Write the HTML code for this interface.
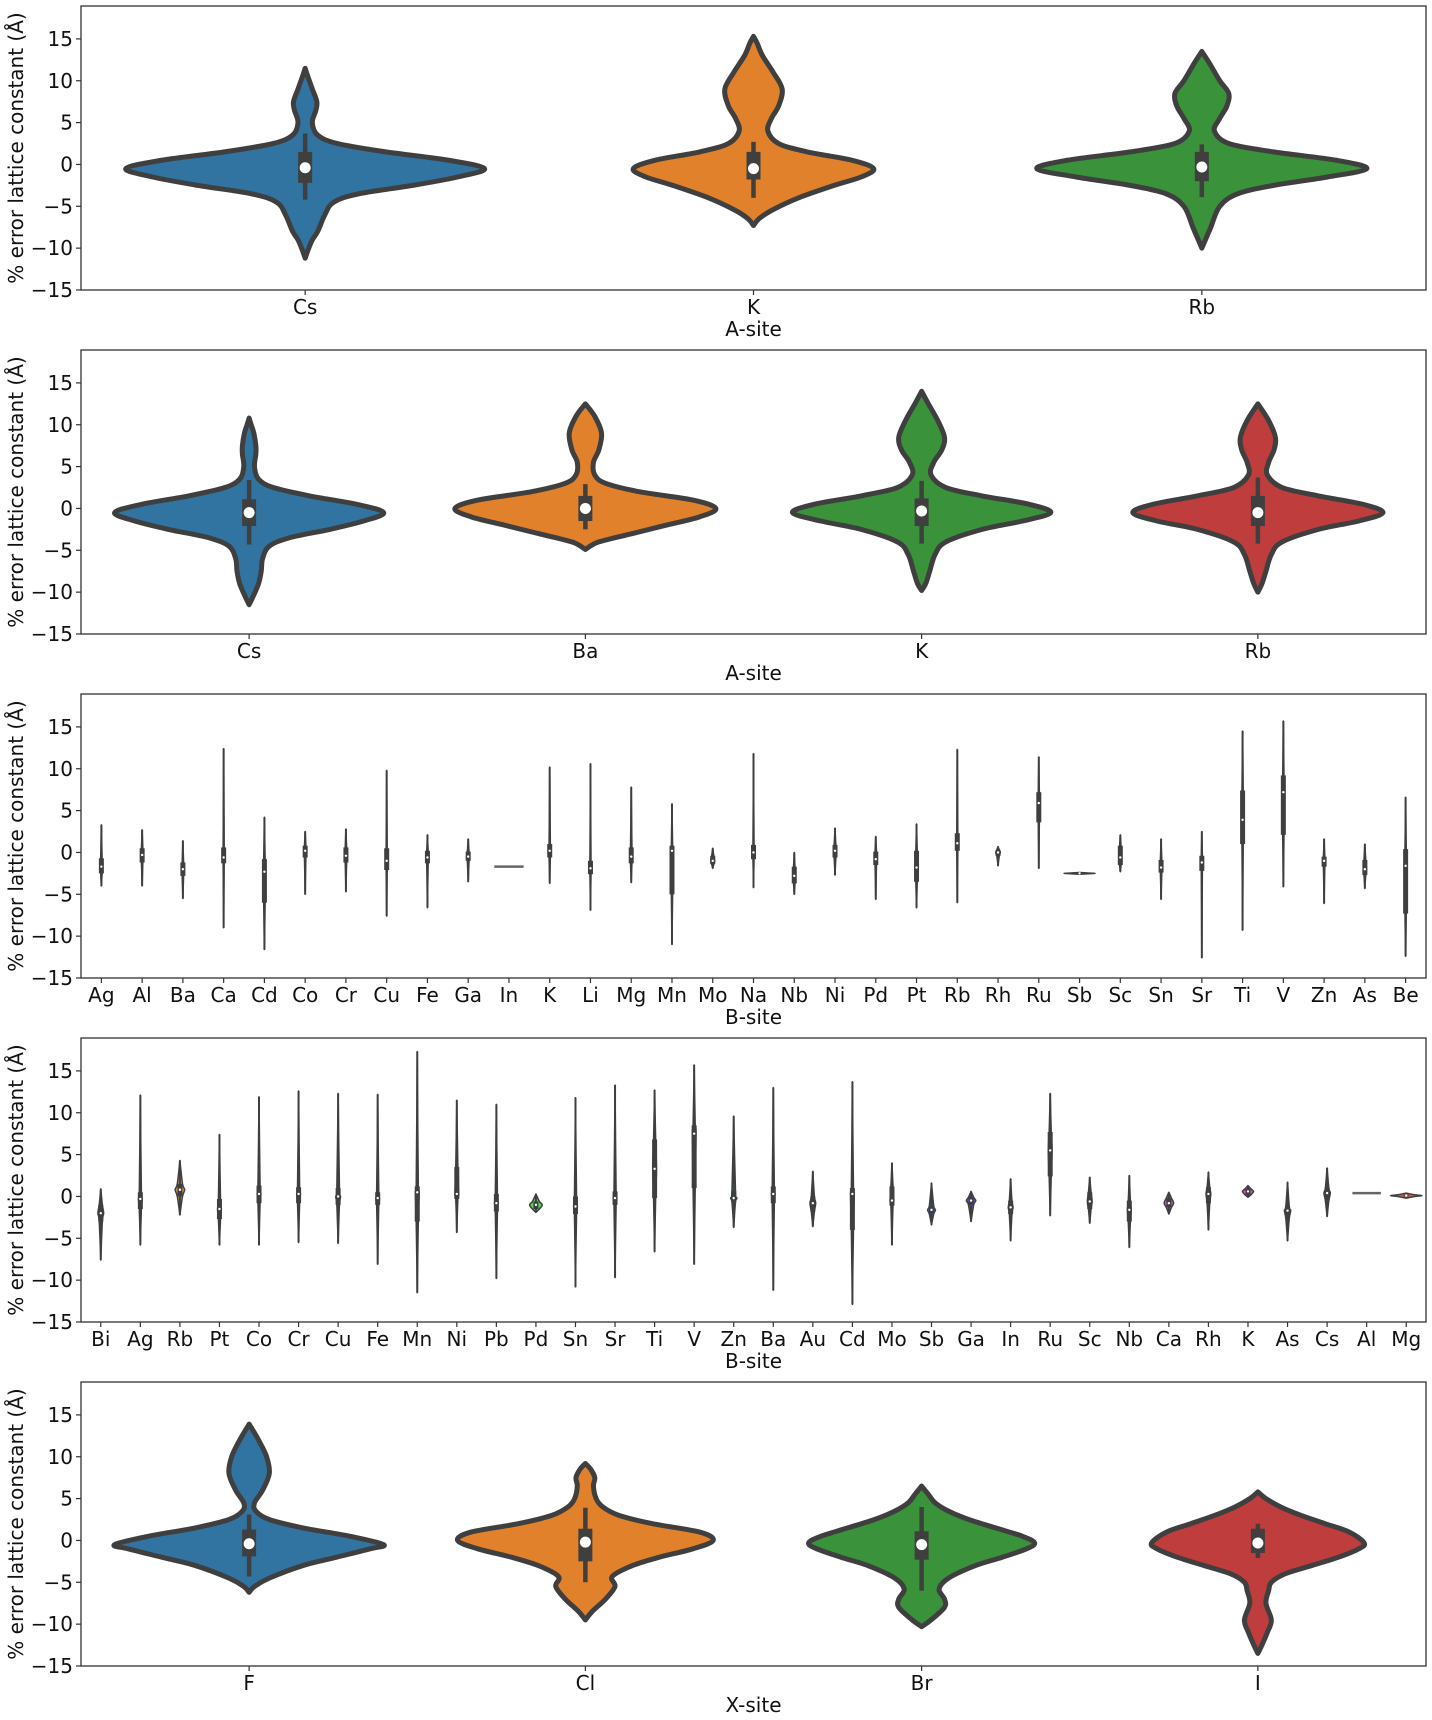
<!DOCTYPE html>
<html><head><meta charset="utf-8"><style>
html,body{margin:0;padding:0;background:#fff}
svg{display:block;font-family:"DejaVu Sans","Liberation Sans",sans-serif}
</style></head><body>
<svg id="chart" width="1432" height="1720" viewBox="0 0 1432 1720" xmlns="http://www.w3.org/2000/svg"></svg>
<script>
// ---------- DATA ----------
const p1Cats = ["Cs","K","Rb"];
const p1Profiles = [
 [[-11.2,0],[-10,0.02],[-9,0.04],[-8,0.07],[-6,0.11],[-4.5,0.16],[-3.5,0.3],[-2.5,0.6],[-1.5,0.85],[-0.5,1.0],[0.5,0.8],[1.5,0.45],[2.5,0.18],[3.5,0.07],[5,0.04],[6.5,0.06],[7.5,0.065],[9,0.04],[10.5,0.015],[11.5,0]],
 [[-7.3,0],[-6.5,0.03],[-5.5,0.1],[-4,0.25],[-2.5,0.45],[-1.5,0.6],[-0.5,0.67],[0.5,0.55],[1.5,0.3],[2.5,0.14],[4,0.08],[5.5,0.1],[7,0.14],[9,0.16],[11,0.11],[13,0.05],[14.5,0.02],[15.3,0]],
 [[-10,0],[-9,0.02],[-7.5,0.05],[-5,0.1],[-3.5,0.2],[-2.5,0.4],[-1.5,0.7],[-0.5,0.92],[0.5,0.75],[1.5,0.4],[2.5,0.15],[4,0.07],[5.5,0.1],[7,0.14],[8.5,0.15],[10,0.1],[12,0.045],[13.5,0]]
];
const p1Boxes = [[-4.2,-2.2,-0.4,1.5,3.7],[-4,-1.8,-0.5,1.5,2.7],[-3.9,-2,-0.3,1.5,2.4]];

const p2Cats = ["Cs","Ba","K","Rb"];
const p2Profiles = [
 [[-11.5,0],[-10.5,0.03],[-9,0.07],[-7.5,0.09],[-6,0.1],[-4.5,0.15],[-3.5,0.3],[-2.5,0.6],[-1.5,0.85],[-0.5,1.0],[0.5,0.8],[1.5,0.45],[2.5,0.18],[3.5,0.07],[5,0.04],[6.5,0.05],[7.5,0.05],[9,0.035],[10,0.015],[10.8,0]],
 [[-4.9,0],[-4,0.1],[-3,0.35],[-2,0.6],[-1,0.85],[0,0.97],[1,0.8],[2,0.4],[3,0.15],[4,0.07],[5.5,0.06],[7,0.1],[9,0.12],[11,0.07],[12.5,0]],
 [[-9.8,0],[-9,0.03],[-7.5,0.06],[-5.5,0.1],[-4,0.18],[-2.5,0.45],[-1.5,0.75],[-0.5,0.96],[0.5,0.8],[1.5,0.45],[2.5,0.18],[4,0.07],[5.5,0.09],[7,0.15],[8.5,0.17],[10.5,0.12],[12.5,0.05],[14,0]],
 [[-10,0],[-9,0.03],[-7.5,0.06],[-5.5,0.1],[-4,0.18],[-2.5,0.45],[-1.5,0.75],[-0.5,0.93],[0.5,0.78],[1.5,0.45],[2.5,0.18],[4,0.07],[5.5,0.08],[7,0.12],[8.5,0.13],[10.5,0.08],[12.5,0]]
];
const p2Boxes = [[-4.3,-2.1,-0.5,1.1,3.4],[-2.5,-1.5,0,1.5,2.9],[-4.2,-2.1,-0.3,1.2,3.3],[-4.2,-2.1,-0.5,1.5,3.7]];

const p5Cats = ["F","Cl","Br","I"];
const p5Profiles = [
 [[-6.2,0],[-5.5,0.04],[-4.5,0.15],[-3,0.4],[-2,0.65],[-1,0.9],[-0.5,1.0],[0.5,0.75],[1.5,0.4],[2.5,0.15],[3.5,0.05],[4.5,0.04],[6,0.1],[8,0.15],[10,0.13],[12,0.07],[13.9,0]],
 [[-9.5,0],[-8.5,0.05],[-7,0.15],[-5.5,0.22],[-4.3,0.2],[-3,0.35],[-2,0.55],[-1,0.8],[0,0.95],[1,0.85],[2,0.5],[3,0.25],[4,0.13],[5,0.08],[6.5,0.06],[7.5,0.07],[8.5,0.04],[9.2,0]],
 [[-10.3,0],[-9.5,0.07],[-8,0.17],[-7,0.17],[-5.8,0.13],[-4.5,0.2],[-3,0.4],[-2,0.6],[-1,0.78],[-0.3,0.84],[0.5,0.75],[1.5,0.55],[2.5,0.35],[3.5,0.2],[4.5,0.1],[5.5,0.05],[6.5,0]],
 [[-13.5,0],[-12.5,0.03],[-11,0.07],[-9.5,0.1],[-7.5,0.06],[-6,0.08],[-5,0.1],[-4,0.2],[-3,0.4],[-2,0.6],[-1,0.75],[-0.3,0.79],[1,0.68],[2,0.5],[3,0.32],[4,0.17],[5,0.06],[5.8,0]]
];
const p5Boxes = [[-4.3,-1.9,-0.4,1.3,3.1],[-5,-2.5,-0.2,1.4,3.9],[-6,-2.3,-0.5,1.1,4],[-2.1,-1.5,-0.3,1.4,2]];

// thin violins: [lo, q1, median, q3, hi]
const p3Cats = ["Ag","Al","Ba","Ca","Cd","Co","Cr","Cu","Fe","Ga","In","K","Li","Mg","Mn","Mo","Na","Nb","Ni","Pd","Pt","Rb","Rh","Ru","Sb","Sc","Sn","Sr","Ti","V","Zn","As","Be"];
const p3Stats = [[-4,-2.5,-1.7,-0.7,3.3],[-4,-1.2,-0.3,0.5,2.7],[-5.5,-2.8,-2,-1.2,1.4],[-9,-1.3,-0.6,0.6,12.4],[-11.6,-6,-2.3,-0.8,4.2],[-5,-0.6,0.2,0.8,2.5],[-4.7,-1.2,-0.4,0.6,2.8],[-7.6,-2.1,-1,0.5,9.8],[-6.6,-1.3,-0.6,0.2,2.1],[-3.5,-1,-0.5,0.1,1.6],[-1.7,-1.7,-1.7,-1.7,-1.7],[-3.7,-0.6,0.2,1,10.2],[-6.9,-2.6,-1.9,-1,10.6],[-3.6,-1.3,-0.5,0.6,7.8],[-11,-5,0.2,0.8,5.8],[-1.9,-1.4,-1,-0.4,0.5],[-4.2,-0.8,0,0.9,11.8],[-5,-3.7,-2.8,-1.7,0],[-2.7,-0.6,0.2,0.9,2.9],[-5.6,-1.5,-0.8,0.1,1.9],[-6.6,-3.5,-1.8,0.2,3.4],[-6,0.2,1.1,2.3,12.3],[-1.6,-0.4,0,0.3,0.7],[-1.9,3.6,5.9,7.2,11.4],[-2.6,-2.55,-2.5,-2.45,-2.4],[-2.3,-1.5,-0.6,0.8,2.1],[-5.6,-2.4,-1.8,-0.9,1.6],[-12.6,-2.2,-1.2,-0.4,2.5],[-9.3,1,3.9,7.4,14.5],[-4.1,2.1,7.2,9.2,15.7],[-6.1,-1.7,-1,-0.5,1.6],[-4.3,-2.7,-2,-0.9,1],[-12.4,-7.3,-1.6,0.4,6.6]];
const p3Widths = [0.08,0.08,0.08,0.06,0.08,0.08,0.08,0.06,0.08,0.1,0.9,0.07,0.06,0.08,0.07,0.12,0.06,0.08,0.1,0.08,0.08,0.06,0.14,0.06,0.95,0.08,0.08,0.06,0.07,0.07,0.08,0.1,0.07];

const p4Cats = ["Bi","Ag","Rb","Pt","Co","Cr","Cu","Fe","Mn","Ni","Pb","Pd","Sn","Sr","Ti","V","Zn","Ba","Au","Cd","Mo","Sb","Ga","In","Ru","Sc","Nb","Ca","Rh","K","As","Cs","Al","Mg"];
const p4Stats = [[-7.6,-3,-2,-1,0.9],[-5.8,-1.5,-0.3,0.5,12.1],[-2.2,0,0.8,1.5,4.3],[-5.8,-2.7,-1.5,-0.3,7.4],[-5.8,-0.8,0.3,1.3,11.9],[-5.5,-0.8,0.3,1.1,12.6],[-5.6,-1,0,1,12.3],[-8.1,-1,-0.2,0.5,12.2],[-11.5,-3,0.5,1.2,17.3],[-4.3,-0.3,0.3,3.5,11.5],[-9.8,-1.8,-0.8,0.3,11],[-1.9,-1.5,-1,-0.6,0.3],[-10.8,-2.1,-1.2,0,11.8],[-9.7,-1,-0.2,0.6,13.3],[-6.6,-0.2,3.3,6.8,12.7],[-8.1,1,7.5,8.5,15.7],[-3.7,-0.7,-0.2,0.7,9.6],[-11.2,-0.8,0.3,1.2,13],[-3.6,-1.8,-0.8,0,3],[-12.9,-4,0.3,1,13.7],[-5.8,-1.1,-0.5,1.2,4],[-3.4,-2.1,-1.6,-1.1,1.6],[-3,-1,-0.5,-0.1,0.6],[-5.3,-2.1,-1.3,-0.5,2.1],[-2.3,2.4,5.5,7.7,12.3],[-3.2,-1.5,-0.6,0.5,2.3],[-6.1,-3,-1.6,-0.5,2.5],[-2.1,-1.3,-0.8,-0.2,0.5],[-4,-0.8,0.3,1.1,2.9],[-0.1,0.2,0.6,0.9,1.3],[-5.3,-2.6,-1.7,-1.2,1.7],[-2.4,-0.5,0.4,1,3.4],[0.4,0.4,0.4,0.4,0.4],[-0.2,0,0.1,0.2,0.4]];
const p4Widths = [0.18,0.12,0.3,0.12,0.12,0.12,0.15,0.12,0.12,0.12,0.12,0.4,0.12,0.12,0.12,0.12,0.2,0.12,0.18,0.12,0.12,0.25,0.3,0.15,0.12,0.15,0.12,0.3,0.15,0.35,0.2,0.2,0.9,1.0];

const yTicks = [-15,-10,-5,0,5,10,15];
const yTickLabels = ["\u221215","\u221210","\u22125","0","5","10","15"];

// ---------- LAYOUT ----------
const svg = document.getElementById('chart');
const NS = 'http://www.w3.org/2000/svg';
const L = 81, R = 1426, H = 284;
const tops = [6, 350, 694, 1038, 1382];
const YMIN = -15, PXU = 8.37;
const deep = ["#3274a1","#e1812c","#3a923a","#c03d3e"];
const OUT = "#3f3f3f";
const FS = 20;

function mk(tag, attrs, parent) {
  const e = document.createElementNS(NS, tag);
  for (const k in attrs) e.setAttribute(k, attrs[k]);
  (parent || svg).appendChild(e);
  return e;
}
function catmull(pts) {
  let d = 'M' + pts[0][0].toFixed(2) + ',' + pts[0][1].toFixed(2);
  for (let i = 0; i < pts.length - 1; i++) {
    const p0 = pts[i - 1] || pts[i], p1 = pts[i], p2 = pts[i + 1], p3 = pts[i + 2] || p2;
    const c1 = [p1[0] + (p2[0] - p0[0]) / 6, p1[1] + (p2[1] - p0[1]) / 6];
    const c2 = [p2[0] - (p3[0] - p1[0]) / 6, p2[1] - (p3[1] - p1[1]) / 6];
    d += 'C' + c1[0].toFixed(2) + ',' + c1[1].toFixed(2) + ' ' + c2[0].toFixed(2) + ',' + c2[1].toFixed(2) + ' ' + p2[0].toFixed(2) + ',' + p2[1].toFixed(2);
  }
  return d;
}

function drawAxes(g, top, cats, xlabel) {
  const n = cats.length, step = (R - L) / n;
  const yS = v => top + H - (v - YMIN) * PXU;
  const xS = i => L + step * (i + 0.5);
  yTicks.forEach((t, i) => {
    const tk = mk('line', {x1: L - 5, x2: L, y1: yS(t), y2: yS(t), stroke: '#333', 'stroke-width': 1.2}, g);
    
    
    const tl = mk('text', {x: L - 8, y: yS(t) + 7, 'text-anchor': 'end', 'font-size': FS, fill: '#111'}, g);
    tl.textContent = yTickLabels[i];
    
    
  });
  cats.forEach((c, i) => {
    const tk = mk('line', {x1: xS(i), x2: xS(i), y1: top + H, y2: top + H + 5, stroke: '#333', 'stroke-width': 1.2}, g);
    
    
    const tl = mk('text', {x: xS(i), y: top + H + 24, 'text-anchor': 'middle', 'font-size': FS, fill: '#111'}, g);
    tl.textContent = c;
    
    
  });
  const xt = mk('text', {x: (L + R) / 2, y: top + H + 46, 'text-anchor': 'middle', 'font-size': FS, fill: '#111'}, g);
  xt.textContent = xlabel;
  
  
  const yt = mk('text', {x: 0, y: 0, 'text-anchor': 'middle', 'font-size': FS, fill: '#111', transform: 'translate(23,' + (top + H / 2) + ') rotate(-90)'}, g);
  yt.textContent = '% error lattice constant (\u00c5)';
  
  
  return {xS, yS, step};
}
function frame(g, top) {
  const fr = mk('rect', {x: L, y: top, width: R - L, height: H, fill: 'none', stroke: '#333', 'stroke-width': 1.3}, g);
  
  
}

function drawFat(pi, cats, profiles, boxes, xlabel) {
  const top = tops[pi];
  const g = mk('g', {});
  
  
  const ax = drawAxes(g, top, cats, xlabel);
  const maxHW = 0.4 * ax.step;
  cats.forEach((c, i) => {
    const cx = ax.xS(i);
    const prof = profiles[i];
    const right = prof.map(p => [cx + p[1] * maxHW, ax.yS(p[0])]);
    const left = prof.slice().reverse().map(p => [cx - p[1] * maxHW, ax.yS(p[0])]);
    const d = catmull(right) + catmull(left).replace(/^M/, 'L') + 'Z';
    const v = mk('path', {d, fill: deep[i % 4], stroke: OUT, 'stroke-width': 5, 'stroke-linejoin': 'round'}, g);
    
    
    const b = boxes[i];
    const w = mk('line', {x1: cx, x2: cx, y1: ax.yS(b[0]), y2: ax.yS(b[4]), stroke: OUT, 'stroke-width': 4.5}, g);
    
    
    const bx = mk('rect', {x: cx - 7, y: ax.yS(b[3]), width: 14, height: ax.yS(b[1]) - ax.yS(b[3]), fill: OUT}, g);
    
    
    const m = mk('circle', {cx, cy: ax.yS(b[2]), r: 5.5, fill: '#fff'}, g);
    
    
  });
  frame(g, top);
}

function huslish(i, n) {
  const h = (10 + i * 360 / n) % 360;
  return 'hsl(' + h.toFixed(0) + ',62%,58%)';
}

function drawThin(pi, cats, stats, widths, xlabel) {
  const top = tops[pi];
  const g = mk('g', {});
  
  
  const ax = drawAxes(g, top, cats, xlabel);
  const maxHW = 0.4 * ax.step;
  cats.forEach((c, i) => {
    const cx = ax.xS(i);
    const s = stats[i], hw = widths[i] * maxHW;
    const col = huslish(i, cats.length);
    if (s[4] - s[0] < 0.01) {
      const ln = mk('line', {x1: cx - hw, x2: cx + hw, y1: ax.yS(s[2]), y2: ax.yS(s[2]), stroke: '#666', 'stroke-width': 2.5}, g);
      
      
      return;
    }
    const pts = [[s[0], 0], [s[1], 0.55], [s[2], 1], [s[3], 0.55], [s[4], 0]];
    const right = pts.map(p => [cx + p[1] * hw, ax.yS(p[0])]);
    const left = pts.slice().reverse().map(p => [cx - p[1] * hw, ax.yS(p[0])]);
    const d = catmull(right) + catmull(left).replace(/^M/, 'L') + 'Z';
    const v = mk('path', {d, fill: col, stroke: OUT, 'stroke-width': 1.5, 'stroke-linejoin': 'round'}, g);
    
    
    const w = mk('line', {x1: cx, x2: cx, y1: ax.yS(s[0]), y2: ax.yS(s[4]), stroke: OUT, 'stroke-width': 2}, g);
    
    
    const bx = mk('rect', {x: cx - 2.5, y: ax.yS(s[3]), width: 5, height: Math.max(1, ax.yS(s[1]) - ax.yS(s[3])), fill: OUT}, g);
    
    
    const m = mk('circle', {cx, cy: ax.yS(s[2]), r: 1.2, fill: '#fff'}, g);
    
    
  });
  frame(g, top);
}

drawFat(0, p1Cats, p1Profiles, p1Boxes, 'A-site');
drawFat(1, p2Cats, p2Profiles, p2Boxes, 'A-site');
drawThin(2, p3Cats, p3Stats, p3Widths, 'B-site');
drawThin(3, p4Cats, p4Stats, p4Widths, 'B-site');
drawFat(4, p5Cats, p5Profiles, p5Boxes, 'X-site');
</script>
</body></html>
